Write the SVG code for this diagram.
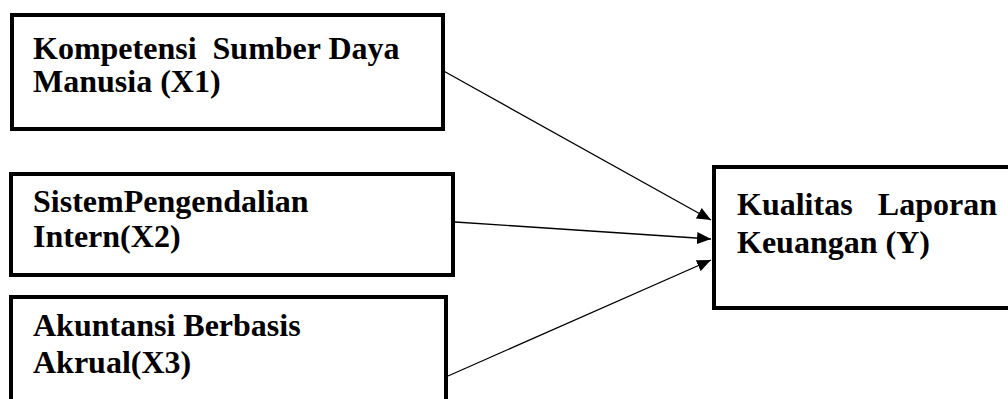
<svg xmlns="http://www.w3.org/2000/svg" width="1008" height="399" viewBox="0 0 1008 399">
<style>
.box{fill:#fff;stroke:#000;stroke-width:4}
.t{font-family:"Liberation Serif","Times New Roman",serif;font-weight:bold;font-size:32px;fill:#000;white-space:pre}
.c{stroke:#000;stroke-width:1.3;fill:none}
</style>
<defs>
<marker id="ah" markerWidth="14" markerHeight="12" refX="14" refY="6" orient="auto" markerUnits="userSpaceOnUse">
<path d="M0,0 L14,6 L0,12 Z" fill="#000"/>
</marker>
</defs>
<rect width="1008" height="399" fill="#fff"/>
<g id="connectors">
<line class="c" x1="440" y1="69" x2="711" y2="220" marker-end="url(#ah)"/>
<line class="c" x1="455" y1="222" x2="711" y2="239" marker-end="url(#ah)"/>
<line class="c" x1="448" y1="376" x2="711" y2="260" marker-end="url(#ah)"/>
</g>
<g id="x1">
<rect class="box" x="12" y="15" width="431" height="114"/>
<text class="t" x="33" y="59" xml:space="preserve">Kompetensi  Sumber Daya</text>
<text class="t" x="33" y="92">Manusia (X1)</text>
</g>
<g id="x2">
<rect class="box" x="11" y="174" width="442" height="101"/>
<text class="t" x="33" y="212">SistemPengendalian</text>
<text class="t" x="33" y="247">Intern(X2)</text>
</g>
<g id="x3">
<rect class="box" x="11" y="297" width="435" height="120"/>
<text class="t" x="33" y="336">Akuntansi Berbasis</text>
<text class="t" x="33" y="373">Akrual(X3)</text>
</g>
<g id="y">
<rect class="box" x="714" y="167" width="310" height="141"/>
<text class="t" x="737" y="215">Kualitas</text>
<text class="t" x="997" y="215" text-anchor="end">Laporan</text>
<text class="t" x="737" y="253">Keuangan (Y)</text>
</g>
</svg>
